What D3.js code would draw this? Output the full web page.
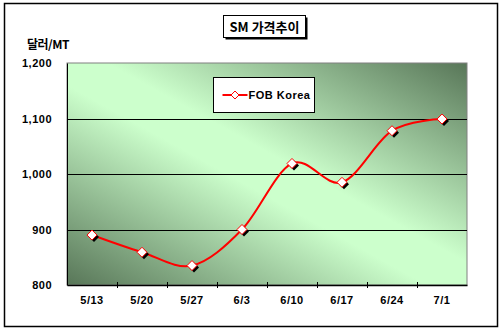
<!DOCTYPE html>
<html>
<head>
<meta charset="utf-8">
<script src="https://cdn.jsdelivr.net/npm/d3@7"></script>
<style>
  body { margin: 0; background: #fff; }
  text { font-family: "Liberation Sans", Arial, "Noto Sans CJK KR", sans-serif; font-weight: bold; fill: #000; }
</style>
</head>
<body>
<svg id="chart" width="503" height="331"></svg>
<script>
const categories = ['5/13', '5/20', '5/27', '6/3', '6/10', '6/17', '6/24', '7/1'];
const fobKorea = [890, 859, 835, 900, 1019, 985, 1078, 1099];
const yTicks = [800, 900, 1000, 1100, 1200];
const title = 'SM 가격추이';
const yLabel = '달러/MT';
const seriesName = 'FOB Korea';

const margin = { top: 63, right: 36, bottom: 46, left: 67 };
const svg = d3.select('#chart');
const W = +svg.attr('width');
const H = +svg.attr('height');
const width = W - margin.left - margin.right;
const height = H - margin.top - margin.bottom;

// outer frame
svg.append('rect')
  .attr('x', 4.5).attr('y', 3.5)
  .attr('width', 493).attr('height', 323)
  .attr('fill', '#fff').attr('stroke', '#000').attr('stroke-width', 1.5);

const defs = svg.append('defs');
const grad = defs.append('linearGradient')
  .attr('id', 'bg')
  .attr('x1', 0).attr('y1', 1).attr('x2', 1).attr('y2', 0);
grad.append('stop').attr('offset', '0%').attr('stop-color', '#587658');
grad.append('stop').attr('offset', '45%').attr('stop-color', '#ccffcc');
grad.append('stop').attr('offset', '55%').attr('stop-color', '#ccffcc');
grad.append('stop').attr('offset', '100%').attr('stop-color', '#587658');

const g = svg.append('g').attr('transform', `translate(${margin.left},${margin.top})`);

const x = d3.scaleBand().domain(categories).range([0, width]);
const y = d3.scaleLinear().domain([800, 1200]).range([height, 0]);

g.append('rect')
  .attr('width', width).attr('height', height)
  .attr('fill', 'url(#bg)')
  .attr('stroke', '#808080').attr('stroke-width', 1);

// gridlines
g.append('g')
  .selectAll('line')
  .data(yTicks.slice(1, -1))
  .join('line')
  .attr('x1', 0).attr('x2', width)
  .attr('y1', d => Math.round(y(d)) + 0.5).attr('y2', d => Math.round(y(d)) + 0.5)
  .attr('stroke', '#000').attr('stroke-width', 1);

// y axis
const axisY = d3.axisLeft(y).tickValues(yTicks).tickSize(0).tickPadding(15)
  .tickFormat(d3.format(','));
g.append('g').attr('class', 'axis-y').call(axisY)
  .call(s => s.select('.domain').attr('stroke', '#000'))
  .call(s => s.selectAll('text').style('font-size', '11px').attr('letter-spacing', '0.5px'));

// x axis
const axisX = d3.axisBottom(x).tickSize(0).tickPadding(11);
const gx = g.append('g').attr('class', 'axis-x').attr('transform', `translate(0,${height})`).call(axisX);
gx.select('.domain').attr('stroke', '#000').attr('stroke-width', 1.5);
gx.selectAll('text').style('font-size', '11px').attr('letter-spacing', '0.5px');
gx.append('g')
  .selectAll('line')
  .data(categories.slice(1))
  .join('line')
  .attr('x1', d => Math.round(x(d)) + 0.5).attr('x2', d => Math.round(x(d)) + 0.5)
  .attr('y1', -3).attr('y2', 3)
  .attr('stroke', '#000');

// series
const data = categories.map((c, i) => ({ cat: c, value: fobKorea[i] }));
const cx = d => x(d.cat) + x.bandwidth() / 2;

const line = d3.line()
  .x(cx)
  .y(d => y(d.value))
  .curve(d3.curveCardinal.tension(0));

g.append('path')
  .datum(data)
  .attr('d', line)
  .attr('fill', 'none')
  .attr('stroke', '#ff0000')
  .attr('stroke-width', 2);

const diamond = (px, py, r) => `M${px},${py - r}L${px + r},${py}L${px},${py + r}L${px - r},${py}Z`;

g.append('g').selectAll('path')
  .data(data)
  .join('path')
  .attr('d', d => diamond(cx(d) + 2, y(d.value) + 2, 5))
  .attr('fill', '#000');

g.append('g').selectAll('path')
  .data(data)
  .join('path')
  .attr('d', d => diamond(cx(d), y(d.value), 5))
  .attr('fill', '#fff')
  .attr('stroke', '#ff0000')
  .attr('stroke-width', 1);

// legend
const legend = svg.append('g').attr('transform', 'translate(213.5,77.5)');
legend.append('rect')
  .attr('width', 101).attr('height', 35)
  .attr('fill', '#fff').attr('stroke', '#000');
legend.append('line')
  .attr('x1', 9).attr('x2', 34).attr('y1', 17.5).attr('y2', 17.5)
  .attr('stroke', '#ff0000').attr('stroke-width', 2);
legend.append('path')
  .attr('d', diamond(21.5, 17.5, 4))
  .attr('fill', '#fff').attr('stroke', '#ff0000');
legend.append('text')
  .attr('x', 35).attr('y', 21.5)
  .style('font-size', '11px')
  .attr('letter-spacing', '0.5px')
  .text(seriesName);

// title
const tg = svg.append('g').attr('transform', 'translate(223.5,15.5)');
tg.append('rect').attr('x', 2).attr('y', 2).attr('width', 82).attr('height', 22).attr('fill', '#000');
tg.append('rect').attr('width', 82).attr('height', 22).attr('fill', '#fff').attr('stroke', '#000');
tg.append('text')
  .attr('x', 41).attr('y', 16)
  .attr('text-anchor', 'middle')
  .style('font-size', '13px')
  .style('font-family', '"Noto Sans CJK KR", sans-serif')
  .text(title);

// y label
svg.append('text')
  .attr('x', 27).attr('y', 49)
  .style('font-size', '12px')
  .style('font-family', '"Noto Sans CJK KR", sans-serif')
  .attr('letter-spacing', '-0.5px')
  .text(yLabel);
</script>
</body>
</html>
